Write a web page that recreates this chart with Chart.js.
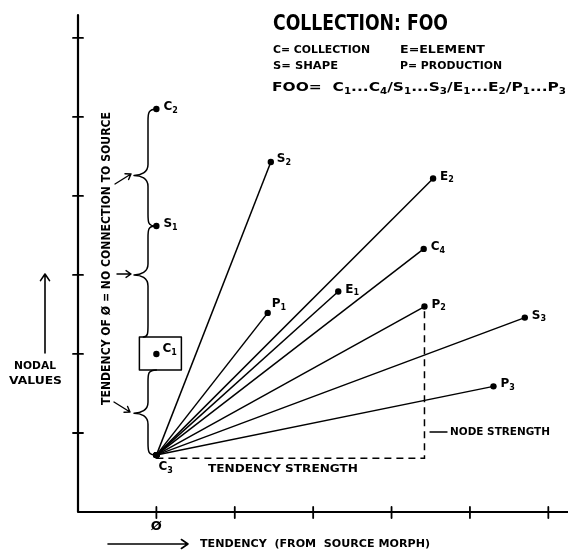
<!DOCTYPE html>
<html>
<head>
<meta charset="utf-8">
<script src="https://cdn.jsdelivr.net/npm/chart.js@4/dist/chart.umd.min.js"></script>
<style>
  html, body { margin: 0; padding: 0; background: #fff; }
</style>
</head>
<body>
<canvas id="nodeChart" width="568" height="550"></canvas>
<script>
// source node, every tendency line starts here
const sourceName = ["C", "3"];
const sourceX = 0;
const sourceY = 0.72;

// nodes connected to the source
const fanNames = [["S", "2"], ["E", "2"], ["C", "4"], ["E", "1"], ["P", "1"], ["P", "2"], ["S", "3"], ["P", "3"]];
const fanX = [1.46, 3.53, 3.41, 2.32, 1.42, 3.42, 4.70, 4.30];
const fanY = [4.43, 4.22, 3.33, 2.79, 2.52, 2.60, 2.46, 1.59];

// nodes at tendency 0 (no connection to source)
const stackNames = [["C", "1"], ["S", "1"], ["C", "2"]];
const stackX = [0, 0, 0];
const stackY = [2.00, 3.62, 5.10];

// tendency / node strength guide drawn for P2
const guideNode = 5;
const guideBaseY = 0.68;

const xTicks = [0, 1, 2, 3, 4, 5];
const yTicks = [1, 2, 3, 4, 5, 6];
const xTickLabels = ["Ø", "", "", "", "", ""];

const FONT = '"DejaVu Sans", sans-serif';

let datasets = [];
fanX.forEach((x, i) => {
  datasets.push({
    data: [{ x: sourceX, y: sourceY }, { x: x, y: fanY[i] }],
    showLine: true,
    borderColor: "#000",
    borderWidth: 1.5,
    pointRadius: 3.2,
    pointBackgroundColor: "#000",
    pointBorderWidth: 0,
  });
});
datasets.push({
  data: stackX.map((x, i) => ({ x: x, y: stackY[i] })),
  showLine: false,
  pointRadius: 3.2,
  pointBackgroundColor: "#000",
  pointBorderWidth: 0,
});
datasets.push({
  data: [
    { x: sourceX, y: guideBaseY },
    { x: fanX[guideNode], y: guideBaseY },
    { x: fanX[guideNode], y: fanY[guideNode] },
  ],
  showLine: true,
  borderColor: "#000",
  borderWidth: 1.5,
  borderDash: [7, 5],
  pointRadius: 0,
});

function fitText(ctx, text, x, y, width, size, weight) {
  ctx.font = weight + " " + size + "px " + FONT;
  let w = ctx.measureText(text).width;
  ctx.save();
  ctx.translate(x, y);
  ctx.scale(width / w, 1);
  ctx.textAlign = "left";
  ctx.textBaseline = "middle";
  ctx.fillText(text, 0, 0);
  ctx.restore();
}

// text made of [base, subscript] pieces, squeezed into a width
function subText(ctx, parts, x, y, width, size) {
  let big = "bold " + size + "px " + FONT;
  let small = "bold " + Math.round(size * 0.65) + "px " + FONT;
  let total = 0;
  parts.forEach((p) => {
    ctx.font = big;
    total += ctx.measureText(p[0]).width;
    if (p[1]) {
      ctx.font = small;
      total += ctx.measureText(p[1]).width;
    }
  });
  let sx = width ? width / total : 1;
  ctx.save();
  ctx.translate(x, y);
  ctx.scale(sx, 1);
  ctx.textAlign = "left";
  ctx.textBaseline = "middle";
  let cx = 0;
  parts.forEach((p) => {
    ctx.font = big;
    ctx.fillText(p[0], cx, 0);
    cx += ctx.measureText(p[0]).width;
    if (p[1]) {
      ctx.font = small;
      ctx.fillText(p[1], cx, size * 0.3);
      cx += ctx.measureText(p[1]).width;
    }
  });
  ctx.restore();
}

function arrow(ctx, x1, y1, x2, y2, head) {
  let a = Math.atan2(y2 - y1, x2 - x1);
  ctx.beginPath();
  ctx.moveTo(x1, y1);
  ctx.lineTo(x2, y2);
  ctx.moveTo(x2 - head * Math.cos(a - 0.6), y2 - head * Math.sin(a - 0.6));
  ctx.lineTo(x2, y2);
  ctx.lineTo(x2 - head * Math.cos(a + 0.6), y2 - head * Math.sin(a + 0.6));
  ctx.stroke();
}

function brace(ctx, xTop, yTop, xBot, yBot, yCusp) {
  const xs = 148, xc = 134;
  ctx.beginPath();
  ctx.moveTo(xTop, yTop);
  ctx.bezierCurveTo(xs, yTop, xs, yTop + 4, xs, yTop + 12);
  ctx.lineTo(xs, yCusp - 11);
  ctx.bezierCurveTo(xs, yCusp - 3, xc + 7, yCusp, xc, yCusp);
  ctx.bezierCurveTo(xc + 7, yCusp, xs, yCusp + 3, xs, yCusp + 11);
  ctx.lineTo(xs, yBot - 12);
  ctx.bezierCurveTo(xs, yBot - 4, xs, yBot, xBot, yBot);
  ctx.stroke();
}

// label offsets from the point, pixels
const labelShift = { C3: [2, 12], P1: [4, -9], C1: [6, -5], S2: [6, -3] };

const drawing = {
  id: "drawing",
  afterDraw(chart) {
    const ctx = chart.ctx;
    const area = chart.chartArea;
    const px = (v) => chart.scales.x.getPixelForValue(v);
    const py = (v) => chart.scales.y.getPixelForValue(v);
    ctx.save();
    ctx.strokeStyle = "#000";
    ctx.fillStyle = "#000";
    ctx.lineCap = "round";
    ctx.lineJoin = "round";

    // axes + tick marks
    ctx.lineWidth = 2.2;
    ctx.beginPath();
    ctx.moveTo(area.left, area.top);
    ctx.lineTo(area.left, area.bottom);
    ctx.lineTo(chart.width, area.bottom);
    ctx.stroke();
    ctx.lineWidth = 1.8;
    yTicks.forEach((v) => {
      ctx.beginPath();
      ctx.moveTo(area.left - 5, py(v));
      ctx.lineTo(area.left + 5, py(v));
      ctx.stroke();
    });
    xTicks.forEach((v, i) => {
      ctx.beginPath();
      ctx.moveTo(px(v), area.bottom - 5);
      ctx.lineTo(px(v), area.bottom + 6);
      ctx.stroke();
      if (xTickLabels[i]) {
        ctx.font = "bold 13px " + FONT;
        ctx.textAlign = "center";
        ctx.textBaseline = "middle";
        ctx.fillText(xTickLabels[i], px(v), area.bottom + 15);
      }
    });

    // point labels
    const label = (name, x, y) => {
      let s = labelShift[name[0] + name[1]] || [7, -2];
      subText(ctx, [name], px(x) + s[0], py(y) + s[1], 0, 12);
    };
    label(sourceName, sourceX, sourceY);
    fanNames.forEach((n, i) => label(n, fanX[i], fanY[i]));
    stackNames.forEach((n, i) => label(n, stackX[i], stackY[i]));

    // box round C1, braces up the tendency-0 column
    ctx.lineWidth = 1.5;
    let c1x = px(stackX[0]), c1y = py(stackY[0]);
    ctx.strokeRect(c1x - 17, c1y - 17, 42, 33);
    brace(ctx, px(stackX[2]) + 1, py(stackY[2]), px(stackX[1]) - 1, py(stackY[1]), py(4.26));
    brace(ctx, px(stackX[1]) - 1, py(stackY[1]), c1x - 13, c1y - 17, py(3.0));
    brace(ctx, c1x, c1y + 16, px(sourceX), py(sourceY), py(1.25));

    ctx.lineWidth = 1.4;
    arrow(ctx, 115, 184, 131, 174, 6);
    arrow(ctx, 117, 274, 131, 274, 6);
    arrow(ctx, 114, 402, 130, 412, 6);
    ctx.lineWidth = 1.6;
    arrow(ctx, 45, 353, 45, 274, 8);
    arrow(ctx, 108, 544, 188, 544, 8);

    // rotated column note
    ctx.save();
    ctx.translate(107, 405);
    ctx.rotate(-Math.PI / 2);
    fitText(ctx, "TENDENCY OF Ø = NO CONNECTION TO SOURCE", 0, 0, 293, 12, "bold");
    ctx.restore();

    fitText(ctx, "NODAL", 14, 366, 42, 11, "bold");
    fitText(ctx, "VALUES", 9, 381, 53, 11, "bold");
    fitText(ctx, "TENDENCY  (FROM  SOURCE MORPH)", 200, 544, 230, 11, "bold");
    fitText(ctx, "TENDENCY STRENGTH", 208, 469, 150, 11, "bold");
    ctx.lineWidth = 1.4;
    ctx.beginPath();
    ctx.moveTo(430, 432);
    ctx.lineTo(447, 432);
    ctx.stroke();
    fitText(ctx, "NODE STRENGTH", 450, 432, 100, 10, "bold");

    // title and key
    fitText(ctx, "COLLECTION: FOO", 273, 24, 175, 22, "bold");
    fitText(ctx, "C= COLLECTION", 273, 50, 97, 11, "bold");
    fitText(ctx, "E=ELEMENT", 400, 50, 85, 11, "bold");
    fitText(ctx, "S= SHAPE", 273, 66, 65, 11, "bold");
    fitText(ctx, "P= PRODUCTION", 400, 66, 102, 11, "bold");
    subText(ctx, [["FOO=  "], ["C", "1"], ["..."], ["C", "4"], ["/"], ["S", "1"], ["..."], ["S", "3"], ["/"],
      ["E", "1"], ["..."], ["E", "2"], ["/"], ["P", "1"], ["..."], ["P", "3"]], 272, 88, 294, 12);
    ctx.restore();
  },
};

new Chart(document.getElementById("nodeChart"), {
  type: "scatter",
  data: { datasets: datasets },
  plugins: [drawing],
  options: {
    responsive: false,
    animation: false,
    layout: { padding: { left: 78, right: 0, top: 15, bottom: 38 } },
    scales: {
      x: { display: false, min: -1, max: 5.2 },
      y: { display: false, min: 0, max: 6.29 },
    },
    plugins: {
      legend: { display: false },
      tooltip: { enabled: false },
    },
  },
});
</script>
</body>
</html>
